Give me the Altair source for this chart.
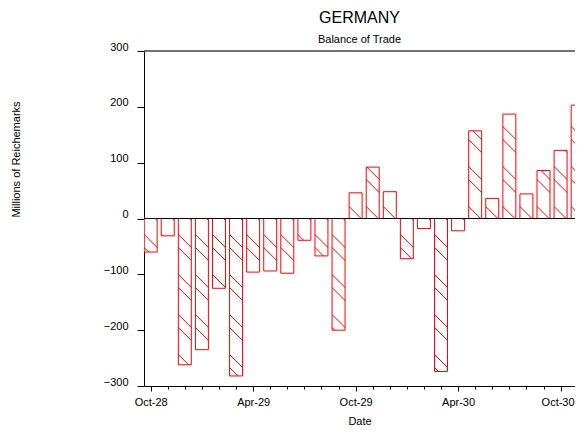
import json
import altair as alt
import pandas as pd

# ---- data ----
months = ["Oct-28", "Nov-28", "Dec-28", "Jan-29", "Feb-29", "Mar-29", "Apr-29",
          "May-29", "Jun-29", "Jul-29", "Aug-29", "Sep-29", "Oct-29", "Nov-29",
          "Dec-29", "Jan-30", "Feb-30", "Mar-30", "Apr-30", "May-30", "Jun-30",
          "Jul-30", "Aug-30", "Sep-30", "Oct-30", "Nov-30"]
balance = [-60, -31, -262, -235, -125, -282, -96, -94, -98, -39, -67, -200,
           46, 92, 48, -72, -18, -274, -22, 157, 36, 187, 44, 86, 122, 203]
y_ticks = [-300, -200, -100, 0, 100, 200, 300]

# ---- geometry helpers ----
W_PX, H_PX = 431, 335
PXM = 17.08                      # pixels per month
X_DOM = [-0.39, -0.39 + W_PX / PXM]
Y_DOM = [-300, 300]
HALF = 0.38                      # half bar width in months
PXU = H_PX / (Y_DOM[1] - Y_DOM[0])
BAR_PX = 2 * HALF * PXM
DROP = BAR_PX / PXU              # 45 degree hatch drop in data units

bars = pd.DataFrame({"i": list(range(len(months))), "month": months, "value": balance})
bars["xl"] = bars["i"] - HALF
bars["xr"] = bars["i"] + HALF

# hatch segments derived from each bar's value
rows = []
for i, v in enumerate(balance):
    xl = i - HALF
    vpx = abs(v) * PXU
    base = [16, 29] if v < 0 else [12, 39]
    lo, hi = (v, 0) if v < 0 else (0, v)
    for k in range(-1, 20):
        for b in base:
            d = b + 40 * k
            if v < 0:
                if not (-BAR_PX < d < vpx):
                    continue
                yL = -d / PXU
            else:
                if not (0 < d < vpx + BAR_PX):
                    continue
                yL = d / PXU
            t0 = max(0.0, (yL - hi) / DROP)
            t1 = min(1.0, (yL - lo) / DROP)
            if t1 <= t0:
                continue
            rows.append({"x": xl + t0 * 2 * HALF, "x2": xl + t1 * 2 * HALF,
                         "y": yL - DROP * t0, "y2": yL - DROP * t1})
hatch = pd.DataFrame(rows)

xs = alt.Scale(domain=X_DOM, nice=False, zero=False)
ys = alt.Scale(domain=Y_DOM, nice=False, zero=False)
RED = "#ff0000"

label_expr = "datum.value % 6 === 0 ? " + json.dumps(months) + "[datum.value] : ''"

x_axis = alt.Axis(
    title="Date", values=list(range(len(months))), labelExpr=label_expr,
    tickSize={"condition": {"test": "datum.value % 6 === 0", "value": 5}, "value": 3},
    labelOffset={"condition": {"test": "datum.value === 24", "value": -3}, "value": 0},
    tickColor="black", domainColor="black", labelColor="black", labelFontSize=11,
    labelPadding=5, labelFlush=False, labelOverlap=False, labelBound=False,
    grid=False, titleFontSize=11,
    titleFontWeight="normal", titleColor="black", titleBaseline="top", titleY=29,
)
y_axis = alt.Axis(
    title="Millions of Reichemarks", values=y_ticks, tickSize=7, tickColor="black",
    domainColor="black", labelColor="black", labelFontSize=11, labelPadding=9,
    labelOffset=-4, labelOverlap=False, grid=False, titleFontSize=11,
    titleFontWeight="normal", titleColor="black", titleAngle=-90, titleAlign="center",
    titleBaseline="middle", titleX=-128, titleY=108,
)

bar_layer = alt.Chart(bars).mark_rect(
    fill="white", stroke=RED, strokeWidth=1, clip=True
).encode(
    x=alt.X("xl:Q", scale=xs, axis=x_axis),
    x2="xr:Q",
    y=alt.Y("value:Q", scale=ys, axis=y_axis),
    y2=alt.datum(0),
)

zero = alt.Chart(pd.DataFrame({"v": [0]})).mark_rule(color="black", strokeWidth=1).encode(
    y=alt.Y("v:Q", scale=ys))
top = alt.Chart(pd.DataFrame({"v": [300]})).mark_rule(color="#444444", strokeWidth=1.5).encode(
    y=alt.Y("v:Q", scale=ys))

hatch_layer = alt.Chart(hatch).mark_rule(color=RED, strokeWidth=1, clip=True).encode(
    x=alt.X("x:Q", scale=xs, axis=x_axis),
    x2="x2:Q",
    y=alt.Y("y:Q", scale=ys, axis=y_axis),
    y2="y2:Q",
)

chart = alt.layer(bar_layer, zero, hatch_layer, top).properties(
    width=W_PX, height=H_PX,
    autosize=alt.AutoSizeParams(type="none"),
    padding={"left": 136, "top": 43, "right": 0, "bottom": 39},
    title=alt.TitleParams(
        text="GERMANY", subtitle="Balance of Trade", fontSize=16, subtitleFontSize=11,
        fontWeight="normal", color="black", subtitleColor="black", anchor="middle",
        frame="group", offset=-4, subtitlePadding=8,
    ),
).configure(font="Liberation Sans").configure_axis(
    labelOverlap=False
).configure_view(stroke=None)

chart.save("out.html", embed_options={"renderer": "svg", "actions": False})
